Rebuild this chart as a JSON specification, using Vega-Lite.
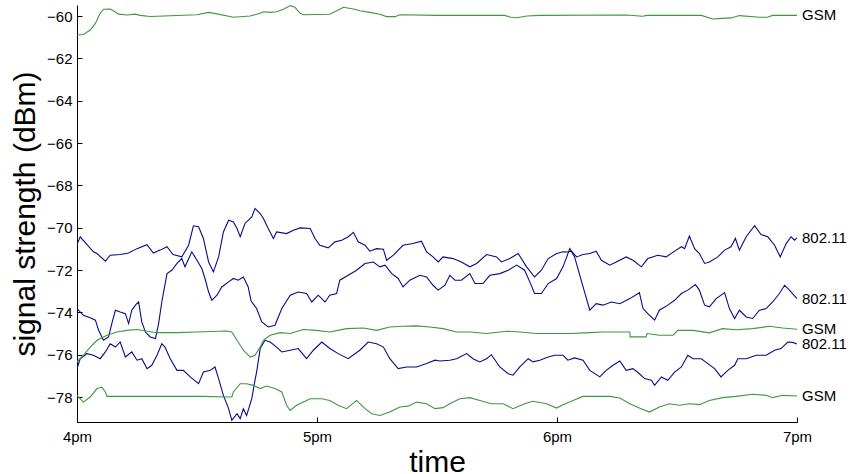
{
  "$schema": "https://vega.github.io/schema/vega-lite/v6.json",
  "autosize": "none",
  "width": 720,
  "height": 417,
  "padding": {"left": 77, "top": 5, "right": 58, "bottom": 52},
  "background": "white",
  "config": {
    "view": {"stroke": null},
    "font": "Liberation Sans",
    "axis": {"grid": false, "domainColor": "black", "tickColor": "black", "labelColor": "black", "titleColor": "black", "labelFont": "Liberation Sans", "titleFont": "Liberation Sans", "labelFontSize": 15, "titleFontSize": 30, "titleFontWeight": "normal", "tickSize": -5, "domainWidth": 1, "tickWidth": 1}
  },
  "datasets": {
    "signal": [
      {"series":"G1","type":"GSM","t":0,"v":-60.9},{"series":"G1","type":"GSM","t":1.6,"v":-60.87},{"series":"G1","type":"GSM","t":3.3,"v":-60.66},{"series":"G1","type":"GSM","t":4.6,"v":-60.35},{"series":"G1","type":"GSM","t":5.8,"v":-59.87},{"series":"G1","type":"GSM","t":6.6,"v":-59.68},{"series":"G1","type":"GSM","t":8.3,"v":-59.67},{"series":"G1","type":"GSM","t":9.1,"v":-59.75},{"series":"G1","type":"GSM","t":10.4,"v":-59.91},{"series":"G1","type":"GSM","t":12.5,"v":-59.95},{"series":"G1","type":"GSM","t":14.6,"v":-59.91},{"series":"G1","type":"GSM","t":15.8,"v":-59.97},{"series":"G1","type":"GSM","t":18.3,"v":-60.02},{"series":"G1","type":"GSM","t":30.0,"v":-59.94},{"series":"G1","type":"GSM","t":32.9,"v":-59.83},{"series":"G1","type":"GSM","t":35.0,"v":-59.9},{"series":"G1","type":"GSM","t":39.1,"v":-60.06},{"series":"G1","type":"GSM","t":43.3,"v":-60.0},{"series":"G1","type":"GSM","t":45.8,"v":-59.87},{"series":"G1","type":"GSM","t":46.6,"v":-59.8},{"series":"G1","type":"GSM","t":48.3,"v":-59.83},{"series":"G1","type":"GSM","t":49.9,"v":-59.8},{"series":"G1","type":"GSM","t":51.6,"v":-59.68},{"series":"G1","type":"GSM","t":53.3,"v":-59.51},{"series":"G1","type":"GSM","t":54.5,"v":-59.59},{"series":"G1","type":"GSM","t":55.8,"v":-59.87},{"series":"G1","type":"GSM","t":56.6,"v":-59.94},{"series":"G1","type":"GSM","t":63.2,"v":-59.92},{"series":"G1","type":"GSM","t":65.7,"v":-59.68},{"series":"G1","type":"GSM","t":66.6,"v":-59.59},{"series":"G1","type":"GSM","t":69.1,"v":-59.67},{"series":"G1","type":"GSM","t":70.7,"v":-59.75},{"series":"G1","type":"GSM","t":73.2,"v":-59.83},{"series":"G1","type":"GSM","t":75.7,"v":-59.92},{"series":"G1","type":"GSM","t":77.4,"v":-60.03},{"series":"G1","type":"GSM","t":79.5,"v":-60.03},{"series":"G1","type":"GSM","t":80.7,"v":-59.94},{"series":"G1","type":"GSM","t":90.0,"v":-59.97},{"series":"G1","type":"GSM","t":106.9,"v":-59.97},{"series":"G1","type":"GSM","t":108.5,"v":-60.06},{"series":"G1","type":"GSM","t":109.9,"v":-60.08},{"series":"G1","type":"GSM","t":112.5,"v":-60.0},{"series":"G1","type":"GSM","t":115.7,"v":-59.97},{"series":"G1","type":"GSM","t":137.4,"v":-59.95},{"series":"G1","type":"GSM","t":141.4,"v":-60.01},{"series":"G1","type":"GSM","t":142.5,"v":-59.97},{"series":"G1","type":"GSM","t":156.1,"v":-59.97},{"series":"G1","type":"GSM","t":158.9,"v":-60.14},{"series":"G1","type":"GSM","t":161.4,"v":-60.11},{"series":"G1","type":"GSM","t":163.5,"v":-60.09},{"series":"G1","type":"GSM","t":165.6,"v":-59.98},{"series":"G1","type":"GSM","t":170.6,"v":-60.06},{"series":"G1","type":"GSM","t":172.6,"v":-60.06},{"series":"G1","type":"GSM","t":173.9,"v":-59.97},{"series":"G1","type":"GSM","t":180,"v":-59.97},

      {"series":"B1","type":"802.11","t":0,"v":-70.8},{"series":"B1","type":"802.11","t":0.8,"v":-70.43},{"series":"B1","type":"802.11","t":4.1,"v":-71.14},{"series":"B1","type":"802.11","t":5.0,"v":-71.22},{"series":"B1","type":"802.11","t":7.1,"v":-71.58},{"series":"B1","type":"802.11","t":8.3,"v":-71.3},{"series":"B1","type":"802.11","t":10.8,"v":-71.27},{"series":"B1","type":"802.11","t":12.9,"v":-71.2},{"series":"B1","type":"802.11","t":15.0,"v":-70.99},{"series":"B1","type":"802.11","t":17.5,"v":-70.8},{"series":"B1","type":"802.11","t":19.1,"v":-71.2},{"series":"B1","type":"802.11","t":20.8,"v":-71.06},{"series":"B1","type":"802.11","t":22.5,"v":-70.9},{"series":"B1","type":"802.11","t":24.0,"v":-71.27},{"series":"B1","type":"802.11","t":26.2,"v":-71.38},{"series":"B1","type":"802.11","t":27.9,"v":-70.83},{"series":"B1","type":"802.11","t":29.1,"v":-69.91},{"series":"B1","type":"802.11","t":30.4,"v":-69.96},{"series":"B1","type":"802.11","t":31.6,"v":-70.51},{"series":"B1","type":"802.11","t":32.9,"v":-71.62},{"series":"B1","type":"802.11","t":34.1,"v":-72.09},{"series":"B1","type":"802.11","t":35.4,"v":-71.38},{"series":"B1","type":"802.11","t":36.6,"v":-70.2},{"series":"B1","type":"802.11","t":37.9,"v":-69.65},{"series":"B1","type":"802.11","t":39.1,"v":-69.73},{"series":"B1","type":"802.11","t":40.0,"v":-70.04},{"series":"B1","type":"802.11","t":40.8,"v":-70.43},{"series":"B1","type":"802.11","t":42.0,"v":-69.8},{"series":"B1","type":"802.11","t":43.7,"v":-69.49},{"series":"B1","type":"802.11","t":44.5,"v":-69.09},{"series":"B1","type":"802.11","t":45.8,"v":-69.33},{"series":"B1","type":"802.11","t":46.6,"v":-69.57},{"series":"B1","type":"802.11","t":47.8,"v":-70.04},{"series":"B1","type":"802.11","t":49.1,"v":-70.51},{"series":"B1","type":"802.11","t":49.9,"v":-70.2},{"series":"B1","type":"802.11","t":52.4,"v":-70.28},{"series":"B1","type":"802.11","t":54.1,"v":-70.12},{"series":"B1","type":"802.11","t":55.8,"v":-70.01},{"series":"B1","type":"802.11","t":58.3,"v":-70.04},{"series":"B1","type":"802.11","t":59.5,"v":-70.51},{"series":"B1","type":"802.11","t":60.7,"v":-70.83},{"series":"B1","type":"802.11","t":62.8,"v":-70.95},{"series":"B1","type":"802.11","t":64.5,"v":-70.67},{"series":"B1","type":"802.11","t":66.2,"v":-70.59},{"series":"B1","type":"802.11","t":67.8,"v":-70.43},{"series":"B1","type":"802.11","t":69.1,"v":-70.22},{"series":"B1","type":"802.11","t":70.3,"v":-70.67},{"series":"B1","type":"802.11","t":72.0,"v":-70.83},{"series":"B1","type":"802.11","t":73.2,"v":-71.11},{"series":"B1","type":"802.11","t":74.9,"v":-70.99},{"series":"B1","type":"802.11","t":76.6,"v":-71.02},{"series":"B1","type":"802.11","t":77.4,"v":-71.54},{"series":"B1","type":"802.11","t":79.1,"v":-71.3},{"series":"B1","type":"802.11","t":81.5,"v":-70.83},{"series":"B1","type":"802.11","t":84.0,"v":-70.75},{"series":"B1","type":"802.11","t":86.1,"v":-70.64},{"series":"B1","type":"802.11","t":87.4,"v":-71.14},{"series":"B1","type":"802.11","t":89.0,"v":-71.38},{"series":"B1","type":"802.11","t":90.3,"v":-71.62},{"series":"B1","type":"802.11","t":91.5,"v":-71.38},{"series":"B1","type":"802.11","t":94.0,"v":-71.46},{"series":"B1","type":"802.11","t":96.1,"v":-71.62},{"series":"B1","type":"802.11","t":98.2,"v":-71.85},{"series":"B1","type":"802.11","t":99.9,"v":-71.69},{"series":"B1","type":"802.11","t":102.4,"v":-71.27},{"series":"B1","type":"802.11","t":104.9,"v":-71.38},{"series":"B1","type":"802.11","t":106.1,"v":-71.62},{"series":"B1","type":"802.11","t":108.2,"v":-71.46},{"series":"B1","type":"802.11","t":110.3,"v":-71.22},{"series":"B1","type":"802.11","t":112.4,"v":-71.85},{"series":"B1","type":"802.11","t":114.4,"v":-72.33},{"series":"B1","type":"802.11","t":116.1,"v":-72.01},{"series":"B1","type":"802.11","t":117.8,"v":-71.46},{"series":"B1","type":"802.11","t":119.9,"v":-71.22},{"series":"B1","type":"802.11","t":121.5,"v":-71.14},{"series":"B1","type":"802.11","t":122.7,"v":-71.15},{"series":"B1","type":"802.11","t":123.6,"v":-71.11},{"series":"B1","type":"802.11","t":124.9,"v":-71.38},{"series":"B1","type":"802.11","t":126.5,"v":-71.27},{"series":"B1","type":"802.11","t":128.2,"v":-71.22},{"series":"B1","type":"802.11","t":129.8,"v":-71.11},{"series":"B1","type":"802.11","t":131.1,"v":-71.54},{"series":"B1","type":"802.11","t":133.2,"v":-71.77},{"series":"B1","type":"802.11","t":134.8,"v":-71.62},{"series":"B1","type":"802.11","t":137.3,"v":-71.38},{"series":"B1","type":"802.11","t":139.0,"v":-71.54},{"series":"B1","type":"802.11","t":141.1,"v":-71.85},{"series":"B1","type":"802.11","t":142.7,"v":-71.46},{"series":"B1","type":"802.11","t":145.2,"v":-71.3},{"series":"B1","type":"802.11","t":147.3,"v":-71.38},{"series":"B1","type":"802.11","t":149.8,"v":-71.06},{"series":"B1","type":"802.11","t":151.1,"v":-70.9},{"series":"B1","type":"802.11","t":151.9,"v":-70.99},{"series":"B1","type":"802.11","t":153.1,"v":-70.39},{"series":"B1","type":"802.11","t":154.4,"v":-70.99},{"series":"B1","type":"802.11","t":155.6,"v":-71.22},{"series":"B1","type":"802.11","t":156.9,"v":-71.69},{"series":"B1","type":"802.11","t":158.1,"v":-71.62},{"series":"B1","type":"802.11","t":160.2,"v":-71.38},{"series":"B1","type":"802.11","t":161.9,"v":-71.06},{"series":"B1","type":"802.11","t":163.5,"v":-70.9},{"series":"B1","type":"802.11","t":164.6,"v":-70.51},{"series":"B1","type":"802.11","t":165.6,"v":-71.06},{"series":"B1","type":"802.11","t":167.3,"v":-70.43},{"series":"B1","type":"802.11","t":169.4,"v":-69.91},{"series":"B1","type":"802.11","t":171.0,"v":-70.32},{"series":"B1","type":"802.11","t":172.7,"v":-70.43},{"series":"B1","type":"802.11","t":174.4,"v":-70.83},{"series":"B1","type":"802.11","t":175.8,"v":-71.38},{"series":"B1","type":"802.11","t":177.3,"v":-70.75},{"series":"B1","type":"802.11","t":178.5,"v":-70.43},{"series":"B1","type":"802.11","t":179.4,"v":-70.59},{"series":"B1","type":"802.11","t":180,"v":-70.48},

      {"series":"B2","type":"802.11","t":0,"v":-73.82},{"series":"B2","type":"802.11","t":1.6,"v":-74.14},{"series":"B2","type":"802.11","t":3.3,"v":-74.26},{"series":"B2","type":"802.11","t":4.6,"v":-74.37},{"series":"B2","type":"802.11","t":5.4,"v":-74.85},{"series":"B2","type":"802.11","t":6.6,"v":-75.32},{"series":"B2","type":"802.11","t":7.9,"v":-75.16},{"series":"B2","type":"802.11","t":8.7,"v":-74.53},{"series":"B2","type":"802.11","t":9.6,"v":-73.9},{"series":"B2","type":"802.11","t":10.8,"v":-73.98},{"series":"B2","type":"802.11","t":12.1,"v":-74.06},{"series":"B2","type":"802.11","t":12.9,"v":-74.53},{"series":"B2","type":"802.11","t":13.7,"v":-73.9},{"series":"B2","type":"802.11","t":14.6,"v":-73.66},{"series":"B2","type":"802.11","t":15.4,"v":-73.51},{"series":"B2","type":"802.11","t":16.2,"v":-74.45},{"series":"B2","type":"802.11","t":17.1,"v":-74.93},{"series":"B2","type":"802.11","t":18.3,"v":-75.16},{"series":"B2","type":"802.11","t":19.6,"v":-75.24},{"series":"B2","type":"802.11","t":20.4,"v":-74.53},{"series":"B2","type":"802.11","t":21.2,"v":-73.51},{"series":"B2","type":"802.11","t":22.5,"v":-72.17},{"series":"B2","type":"802.11","t":23.7,"v":-72.01},{"series":"B2","type":"802.11","t":25.0,"v":-71.69},{"series":"B2","type":"802.11","t":26.2,"v":-71.46},{"series":"B2","type":"802.11","t":27.0,"v":-71.85},{"series":"B2","type":"802.11","t":28.7,"v":-71.14},{"series":"B2","type":"802.11","t":30.0,"v":-71.54},{"series":"B2","type":"802.11","t":31.2,"v":-71.93},{"series":"B2","type":"802.11","t":32.0,"v":-72.4},{"series":"B2","type":"802.11","t":32.9,"v":-73.04},{"series":"B2","type":"802.11","t":33.7,"v":-73.43},{"series":"B2","type":"802.11","t":35.0,"v":-73.19},{"series":"B2","type":"802.11","t":36.2,"v":-72.8},{"series":"B2","type":"802.11","t":37.9,"v":-72.56},{"series":"B2","type":"802.11","t":39.1,"v":-72.4},{"series":"B2","type":"802.11","t":40.3,"v":-72.48},{"series":"B2","type":"802.11","t":41.6,"v":-72.33},{"series":"B2","type":"802.11","t":42.8,"v":-72.8},{"series":"B2","type":"802.11","t":43.5,"v":-73.45},{"series":"B2","type":"802.11","t":44.9,"v":-73.82},{"series":"B2","type":"802.11","t":46.2,"v":-74.45},{"series":"B2","type":"802.11","t":47.8,"v":-74.69},{"series":"B2","type":"802.11","t":49.5,"v":-74.61},{"series":"B2","type":"802.11","t":51.2,"v":-73.82},{"series":"B2","type":"802.11","t":53.3,"v":-73.19},{"series":"B2","type":"802.11","t":55.3,"v":-73.04},{"series":"B2","type":"802.11","t":57.4,"v":-73.11},{"series":"B2","type":"802.11","t":58.7,"v":-73.51},{"series":"B2","type":"802.11","t":60.3,"v":-73.19},{"series":"B2","type":"802.11","t":62.0,"v":-73.51},{"series":"B2","type":"802.11","t":63.2,"v":-73.19},{"series":"B2","type":"802.11","t":64.9,"v":-73.11},{"series":"B2","type":"802.11","t":65.7,"v":-72.48},{"series":"B2","type":"802.11","t":67.8,"v":-72.25},{"series":"B2","type":"802.11","t":69.9,"v":-72.01},{"series":"B2","type":"802.11","t":72.0,"v":-71.69},{"series":"B2","type":"802.11","t":74.1,"v":-71.62},{"series":"B2","type":"802.11","t":75.7,"v":-71.85},{"series":"B2","type":"802.11","t":77.0,"v":-71.77},{"series":"B2","type":"802.11","t":78.7,"v":-72.17},{"series":"B2","type":"802.11","t":80.3,"v":-72.4},{"series":"B2","type":"802.11","t":81.5,"v":-72.8},{"series":"B2","type":"802.11","t":83.2,"v":-72.48},{"series":"B2","type":"802.11","t":85.7,"v":-72.25},{"series":"B2","type":"802.11","t":87.4,"v":-72.33},{"series":"B2","type":"802.11","t":89.0,"v":-72.72},{"series":"B2","type":"802.11","t":90.3,"v":-72.95},{"series":"B2","type":"802.11","t":92.0,"v":-72.72},{"series":"B2","type":"802.11","t":93.2,"v":-72.25},{"series":"B2","type":"802.11","t":94.5,"v":-72.48},{"series":"B2","type":"802.11","t":96.1,"v":-72.48},{"series":"B2","type":"802.11","t":98.2,"v":-72.17},{"series":"B2","type":"802.11","t":99.5,"v":-72.64},{"series":"B2","type":"802.11","t":101.5,"v":-72.64},{"series":"B2","type":"802.11","t":103.2,"v":-72.25},{"series":"B2","type":"802.11","t":105.7,"v":-72.17},{"series":"B2","type":"802.11","t":107.8,"v":-72.01},{"series":"B2","type":"802.11","t":109.9,"v":-71.77},{"series":"B2","type":"802.11","t":111.9,"v":-72.01},{"series":"B2","type":"802.11","t":113.2,"v":-72.56},{"series":"B2","type":"802.11","t":114.4,"v":-73.11},{"series":"B2","type":"802.11","t":116.1,"v":-73.11},{"series":"B2","type":"802.11","t":117.8,"v":-72.64},{"series":"B2","type":"802.11","t":119.9,"v":-72.4},{"series":"B2","type":"802.11","t":121.5,"v":-71.85},{"series":"B2","type":"802.11","t":123.2,"v":-70.99},{"series":"B2","type":"802.11","t":124.4,"v":-71.38},{"series":"B2","type":"802.11","t":125.7,"v":-72.25},{"series":"B2","type":"802.11","t":126.9,"v":-73.04},{"series":"B2","type":"802.11","t":128.2,"v":-73.9},{"series":"B2","type":"802.11","t":129.8,"v":-73.59},{"series":"B2","type":"802.11","t":131.5,"v":-73.66},{"series":"B2","type":"802.11","t":133.6,"v":-73.51},{"series":"B2","type":"802.11","t":135.7,"v":-73.59},{"series":"B2","type":"802.11","t":138.2,"v":-73.35},{"series":"B2","type":"802.11","t":140.6,"v":-73.07},{"series":"B2","type":"802.11","t":141.5,"v":-73.82},{"series":"B2","type":"802.11","t":142.7,"v":-74.06},{"series":"B2","type":"802.11","t":144.4,"v":-74.37},{"series":"B2","type":"802.11","t":145.6,"v":-73.9},{"series":"B2","type":"802.11","t":147.7,"v":-73.66},{"series":"B2","type":"802.11","t":149.4,"v":-73.43},{"series":"B2","type":"802.11","t":151.1,"v":-73.11},{"series":"B2","type":"802.11","t":152.7,"v":-72.95},{"series":"B2","type":"802.11","t":154.6,"v":-72.69},{"series":"B2","type":"802.11","t":155.6,"v":-72.95},{"series":"B2","type":"802.11","t":156.9,"v":-73.66},{"series":"B2","type":"802.11","t":158.1,"v":-73.74},{"series":"B2","type":"802.11","t":159.8,"v":-73.35},{"series":"B2","type":"802.11","t":161.9,"v":-73.07},{"series":"B2","type":"802.11","t":163.1,"v":-73.82},{"series":"B2","type":"802.11","t":164.4,"v":-74.29},{"series":"B2","type":"802.11","t":165.6,"v":-73.9},{"series":"B2","type":"802.11","t":167.3,"v":-74.22},{"series":"B2","type":"802.11","t":168.9,"v":-74.29},{"series":"B2","type":"802.11","t":170.6,"v":-73.9},{"series":"B2","type":"802.11","t":172.3,"v":-73.82},{"series":"B2","type":"802.11","t":173.9,"v":-73.51},{"series":"B2","type":"802.11","t":175.6,"v":-73.11},{"series":"B2","type":"802.11","t":176.9,"v":-72.72},{"series":"B2","type":"802.11","t":178.1,"v":-72.95},{"series":"B2","type":"802.11","t":180,"v":-73.35},

      {"series":"B3","type":"802.11","t":0,"v":-76.66},{"series":"B3","type":"802.11","t":0.8,"v":-76.19},{"series":"B3","type":"802.11","t":2.5,"v":-75.95},{"series":"B3","type":"802.11","t":4.1,"v":-76.03},{"series":"B3","type":"802.11","t":5.8,"v":-76.19},{"series":"B3","type":"802.11","t":7.1,"v":-75.87},{"series":"B3","type":"802.11","t":8.3,"v":-75.48},{"series":"B3","type":"802.11","t":9.6,"v":-75.64},{"series":"B3","type":"802.11","t":10.8,"v":-75.4},{"series":"B3","type":"802.11","t":12.1,"v":-76.11},{"series":"B3","type":"802.11","t":13.7,"v":-75.87},{"series":"B3","type":"802.11","t":15.0,"v":-76.26},{"series":"B3","type":"802.11","t":16.2,"v":-76.19},{"series":"B3","type":"802.11","t":17.5,"v":-76.66},{"series":"B3","type":"802.11","t":18.7,"v":-76.5},{"series":"B3","type":"802.11","t":20.0,"v":-76.03},{"series":"B3","type":"802.11","t":21.2,"v":-75.48},{"series":"B3","type":"802.11","t":22.0,"v":-75.64},{"series":"B3","type":"802.11","t":23.3,"v":-76.19},{"series":"B3","type":"802.11","t":25.0,"v":-76.74},{"series":"B3","type":"802.11","t":26.6,"v":-76.74},{"series":"B3","type":"802.11","t":28.3,"v":-77.05},{"series":"B3","type":"802.11","t":30.4,"v":-77.37},{"series":"B3","type":"802.11","t":31.6,"v":-76.82},{"series":"B3","type":"802.11","t":33.3,"v":-76.74},{"series":"B3","type":"802.11","t":34.5,"v":-76.58},{"series":"B3","type":"802.11","t":35.4,"v":-77.13},{"series":"B3","type":"802.11","t":36.6,"v":-77.92},{"series":"B3","type":"802.11","t":37.9,"v":-78.55},{"series":"B3","type":"802.11","t":38.7,"v":-79.1},{"series":"B3","type":"802.11","t":40.0,"v":-78.79},{"series":"B3","type":"802.11","t":40.8,"v":-79.02},{"series":"B3","type":"802.11","t":41.6,"v":-78.55},{"series":"B3","type":"802.11","t":42.4,"v":-78.87},{"series":"B3","type":"802.11","t":43.7,"v":-78.08},{"series":"B3","type":"802.11","t":44.5,"v":-77.2},{"series":"B3","type":"802.11","t":44.9,"v":-76.82},{"series":"B3","type":"802.11","t":45.8,"v":-75.71},{"series":"B3","type":"802.11","t":47.0,"v":-75.32},{"series":"B3","type":"802.11","t":48.3,"v":-75.4},{"series":"B3","type":"802.11","t":49.9,"v":-75.64},{"series":"B3","type":"802.11","t":51.2,"v":-75.87},{"series":"B3","type":"802.11","t":53.3,"v":-75.79},{"series":"B3","type":"802.11","t":55.3,"v":-75.71},{"series":"B3","type":"802.11","t":57.4,"v":-76.19},{"series":"B3","type":"802.11","t":59.1,"v":-75.79},{"series":"B3","type":"802.11","t":61.2,"v":-75.4},{"series":"B3","type":"802.11","t":63.2,"v":-75.71},{"series":"B3","type":"802.11","t":65.3,"v":-75.95},{"series":"B3","type":"802.11","t":67.8,"v":-76.19},{"series":"B3","type":"802.11","t":70.7,"v":-75.79},{"series":"B3","type":"802.11","t":72.8,"v":-75.4},{"series":"B3","type":"802.11","t":74.9,"v":-75.48},{"series":"B3","type":"802.11","t":76.6,"v":-75.64},{"series":"B3","type":"802.11","t":78.2,"v":-76.19},{"series":"B3","type":"802.11","t":80.3,"v":-76.66},{"series":"B3","type":"802.11","t":82.4,"v":-76.58},{"series":"B3","type":"802.11","t":84.9,"v":-76.58},{"series":"B3","type":"802.11","t":87.4,"v":-76.42},{"series":"B3","type":"802.11","t":89.5,"v":-76.26},{"series":"B3","type":"802.11","t":90.7,"v":-76.3},{"series":"B3","type":"802.11","t":93.2,"v":-76.26},{"series":"B3","type":"802.11","t":94.9,"v":-76.19},{"series":"B3","type":"802.11","t":97.4,"v":-75.95},{"series":"B3","type":"802.11","t":99.0,"v":-76.19},{"series":"B3","type":"802.11","t":100.7,"v":-76.34},{"series":"B3","type":"802.11","t":102.4,"v":-76.19},{"series":"B3","type":"802.11","t":103.6,"v":-76.0},{"series":"B3","type":"802.11","t":105.7,"v":-76.58},{"series":"B3","type":"802.11","t":107.8,"v":-76.9},{"series":"B3","type":"802.11","t":109.0,"v":-76.97},{"series":"B3","type":"802.11","t":110.7,"v":-76.58},{"series":"B3","type":"802.11","t":112.8,"v":-76.19},{"series":"B3","type":"802.11","t":114.0,"v":-76.34},{"series":"B3","type":"802.11","t":115.7,"v":-76.26},{"series":"B3","type":"802.11","t":117.8,"v":-76.11},{"series":"B3","type":"802.11","t":119.4,"v":-76.03},{"series":"B3","type":"802.11","t":121.5,"v":-76.03},{"series":"B3","type":"802.11","t":122.7,"v":-76.26},{"series":"B3","type":"802.11","t":124.4,"v":-76.15},{"series":"B3","type":"802.11","t":126.5,"v":-76.26},{"series":"B3","type":"802.11","t":128.2,"v":-76.74},{"series":"B3","type":"802.11","t":130.7,"v":-77.05},{"series":"B3","type":"802.11","t":132.3,"v":-76.74},{"series":"B3","type":"802.11","t":134.0,"v":-76.5},{"series":"B3","type":"802.11","t":135.7,"v":-76.3},{"series":"B3","type":"802.11","t":137.3,"v":-76.74},{"series":"B3","type":"802.11","t":139.0,"v":-76.66},{"series":"B3","type":"802.11","t":140.6,"v":-76.9},{"series":"B3","type":"802.11","t":141.9,"v":-77.13},{"series":"B3","type":"802.11","t":143.6,"v":-77.21},{"series":"B3","type":"802.11","t":144.4,"v":-77.45},{"series":"B3","type":"802.11","t":146.1,"v":-77.05},{"series":"B3","type":"802.11","t":147.7,"v":-77.21},{"series":"B3","type":"802.11","t":149.4,"v":-76.82},{"series":"B3","type":"802.11","t":151.1,"v":-76.58},{"series":"B3","type":"802.11","t":152.7,"v":-76.03},{"series":"B3","type":"802.11","t":154.0,"v":-76.19},{"series":"B3","type":"802.11","t":156.1,"v":-76.19},{"series":"B3","type":"802.11","t":157.7,"v":-76.42},{"series":"B3","type":"802.11","t":159.4,"v":-76.66},{"series":"B3","type":"802.11","t":161.0,"v":-77.05},{"series":"B3","type":"802.11","t":162.7,"v":-76.74},{"series":"B3","type":"802.11","t":164.4,"v":-76.5},{"series":"B3","type":"802.11","t":165.2,"v":-76.19},{"series":"B3","type":"802.11","t":167.3,"v":-76.19},{"series":"B3","type":"802.11","t":169.8,"v":-76.03},{"series":"B3","type":"802.11","t":172.3,"v":-76.03},{"series":"B3","type":"802.11","t":174.4,"v":-75.79},{"series":"B3","type":"802.11","t":176.0,"v":-75.71},{"series":"B3","type":"802.11","t":177.7,"v":-75.4},{"series":"B3","type":"802.11","t":178.9,"v":-75.42},{"series":"B3","type":"802.11","t":180,"v":-75.5},

      {"series":"G2","type":"GSM","t":0,"v":-76.34},{"series":"G2","type":"GSM","t":1.6,"v":-76.03},{"series":"G2","type":"GSM","t":3.3,"v":-75.64},{"series":"G2","type":"GSM","t":5.0,"v":-75.32},{"series":"G2","type":"GSM","t":7.5,"v":-75.08},{"series":"G2","type":"GSM","t":10.0,"v":-74.93},{"series":"G2","type":"GSM","t":12.5,"v":-74.85},{"series":"G2","type":"GSM","t":15.0,"v":-74.81},{"series":"G2","type":"GSM","t":17.5,"v":-74.89},{"series":"G2","type":"GSM","t":20.0,"v":-74.96},{"series":"G2","type":"GSM","t":25.0,"v":-74.96},{"series":"G2","type":"GSM","t":30.0,"v":-74.93},{"series":"G2","type":"GSM","t":37.5,"v":-74.88},{"series":"G2","type":"GSM","t":38.7,"v":-74.93},{"series":"G2","type":"GSM","t":40.0,"v":-75.32},{"series":"G2","type":"GSM","t":41.6,"v":-75.79},{"series":"G2","type":"GSM","t":43.3,"v":-76.11},{"series":"G2","type":"GSM","t":44.5,"v":-76.03},{"series":"G2","type":"GSM","t":45.8,"v":-75.64},{"series":"G2","type":"GSM","t":46.6,"v":-75.32},{"series":"G2","type":"GSM","t":48.3,"v":-75.08},{"series":"G2","type":"GSM","t":50.8,"v":-74.96},{"series":"G2","type":"GSM","t":53.3,"v":-75.0},{"series":"G2","type":"GSM","t":56.6,"v":-74.81},{"series":"G2","type":"GSM","t":59.9,"v":-74.85},{"series":"G2","type":"GSM","t":63.2,"v":-74.93},{"series":"G2","type":"GSM","t":67.4,"v":-74.77},{"series":"G2","type":"GSM","t":71.6,"v":-74.74},{"series":"G2","type":"GSM","t":74.9,"v":-74.85},{"series":"G2","type":"GSM","t":78.2,"v":-74.69},{"series":"G2","type":"GSM","t":81.5,"v":-74.66},{"series":"G2","type":"GSM","t":84.9,"v":-74.64},{"series":"G2","type":"GSM","t":88.2,"v":-74.69},{"series":"G2","type":"GSM","t":91.5,"v":-74.77},{"series":"G2","type":"GSM","t":94.9,"v":-74.93},{"series":"G2","type":"GSM","t":98.2,"v":-74.93},{"series":"G2","type":"GSM","t":102.4,"v":-75.0},{"series":"G2","type":"GSM","t":107.4,"v":-74.89},{"series":"G2","type":"GSM","t":110.7,"v":-74.93},{"series":"G2","type":"GSM","t":114.9,"v":-75.0},{"series":"G2","type":"GSM","t":123.2,"v":-75.0},{"series":"G2","type":"GSM","t":128.2,"v":-74.96},{"series":"G2","type":"GSM","t":131.5,"v":-74.93},{"series":"G2","type":"GSM","t":138.2,"v":-74.93},{"series":"G2","type":"GSM","t":138.3,"v":-75.16},{"series":"G2","type":"GSM","t":142.3,"v":-75.16},{"series":"G2","type":"GSM","t":142.5,"v":-75.0},{"series":"G2","type":"GSM","t":145.6,"v":-75.08},{"series":"G2","type":"GSM","t":149.0,"v":-75.08},{"series":"G2","type":"GSM","t":150.2,"v":-74.85},{"series":"G2","type":"GSM","t":154.0,"v":-74.85},{"series":"G2","type":"GSM","t":158.1,"v":-74.97},{"series":"G2","type":"GSM","t":161.4,"v":-74.77},{"series":"G2","type":"GSM","t":164.8,"v":-74.82},{"series":"G2","type":"GSM","t":168.9,"v":-74.77},{"series":"G2","type":"GSM","t":173.1,"v":-74.66},{"series":"G2","type":"GSM","t":176.4,"v":-74.74},{"series":"G2","type":"GSM","t":180,"v":-74.8},

      {"series":"G3","type":"GSM","t":0,"v":-77.92},{"series":"G3","type":"GSM","t":1.6,"v":-78.24},{"series":"G3","type":"GSM","t":3.3,"v":-78.0},{"series":"G3","type":"GSM","t":5.0,"v":-77.6},{"series":"G3","type":"GSM","t":6.2,"v":-77.53},{"series":"G3","type":"GSM","t":7.1,"v":-77.76},{"series":"G3","type":"GSM","t":7.5,"v":-77.97},{"series":"G3","type":"GSM","t":31.6,"v":-77.97},{"series":"G3","type":"GSM","t":37.5,"v":-78.0},{"series":"G3","type":"GSM","t":38.7,"v":-78.0},{"series":"G3","type":"GSM","t":39.1,"v":-77.76},{"series":"G3","type":"GSM","t":40.8,"v":-77.37},{"series":"G3","type":"GSM","t":42.4,"v":-77.37},{"series":"G3","type":"GSM","t":44.1,"v":-77.45},{"series":"G3","type":"GSM","t":45.8,"v":-77.6},{"series":"G3","type":"GSM","t":47.4,"v":-77.48},{"series":"G3","type":"GSM","t":49.5,"v":-77.6},{"series":"G3","type":"GSM","t":51.2,"v":-77.76},{"series":"G3","type":"GSM","t":52.4,"v":-78.39},{"series":"G3","type":"GSM","t":53.3,"v":-78.63},{"series":"G3","type":"GSM","t":54.9,"v":-78.39},{"series":"G3","type":"GSM","t":58.3,"v":-78.08},{"series":"G3","type":"GSM","t":61.2,"v":-78.08},{"series":"G3","type":"GSM","t":63.2,"v":-78.16},{"series":"G3","type":"GSM","t":65.3,"v":-78.39},{"series":"G3","type":"GSM","t":67.4,"v":-78.55},{"series":"G3","type":"GSM","t":69.9,"v":-78.16},{"series":"G3","type":"GSM","t":72.0,"v":-78.55},{"series":"G3","type":"GSM","t":73.7,"v":-78.79},{"series":"G3","type":"GSM","t":75.7,"v":-78.87},{"series":"G3","type":"GSM","t":78.2,"v":-78.71},{"series":"G3","type":"GSM","t":80.7,"v":-78.47},{"series":"G3","type":"GSM","t":82.8,"v":-78.43},{"series":"G3","type":"GSM","t":84.9,"v":-78.24},{"series":"G3","type":"GSM","t":87.4,"v":-78.32},{"series":"G3","type":"GSM","t":89.5,"v":-78.55},{"series":"G3","type":"GSM","t":91.5,"v":-78.5},{"series":"G3","type":"GSM","t":93.2,"v":-78.32},{"series":"G3","type":"GSM","t":95.7,"v":-78.08},{"series":"G3","type":"GSM","t":98.2,"v":-78.03},{"series":"G3","type":"GSM","t":100.7,"v":-78.16},{"series":"G3","type":"GSM","t":103.6,"v":-78.32},{"series":"G3","type":"GSM","t":106.5,"v":-78.32},{"series":"G3","type":"GSM","t":109.0,"v":-78.55},{"series":"G3","type":"GSM","t":111.9,"v":-78.32},{"series":"G3","type":"GSM","t":114.0,"v":-78.2},{"series":"G3","type":"GSM","t":117.4,"v":-78.32},{"series":"G3","type":"GSM","t":119.9,"v":-78.52},{"series":"G3","type":"GSM","t":121.5,"v":-78.36},{"series":"G3","type":"GSM","t":124.0,"v":-78.16},{"series":"G3","type":"GSM","t":126.5,"v":-77.97},{"series":"G3","type":"GSM","t":133.2,"v":-77.97},{"series":"G3","type":"GSM","t":135.7,"v":-78.05},{"series":"G3","type":"GSM","t":138.2,"v":-78.32},{"series":"G3","type":"GSM","t":140.6,"v":-78.52},{"series":"G3","type":"GSM","t":143.1,"v":-78.71},{"series":"G3","type":"GSM","t":145.6,"v":-78.47},{"series":"G3","type":"GSM","t":148.1,"v":-78.32},{"series":"G3","type":"GSM","t":150.6,"v":-78.39},{"series":"G3","type":"GSM","t":153.1,"v":-78.32},{"series":"G3","type":"GSM","t":155.6,"v":-78.36},{"series":"G3","type":"GSM","t":158.1,"v":-78.16},{"series":"G3","type":"GSM","t":161.4,"v":-78.03},{"series":"G3","type":"GSM","t":164.8,"v":-77.97},{"series":"G3","type":"GSM","t":168.9,"v":-77.87},{"series":"G3","type":"GSM","t":172.3,"v":-77.92},{"series":"G3","type":"GSM","t":173.9,"v":-78.03},{"series":"G3","type":"GSM","t":176.4,"v":-77.92},{"series":"G3","type":"GSM","t":180,"v":-77.95}
    ]
  },
  "data": {"name": "signal"},
  "layer": [
    {
      "mark": {"type": "line", "strokeWidth": 1.1, "clip": true},
      "encoding": {
        "x": {"field": "t", "type": "quantitative", "scale": {"domain": [0, 180], "nice": false, "zero": false},
          "axis": {"values": [0, 60, 120, 180], "title": "time", "labelExpr": "['4pm','5pm','6pm','7pm'][datum.value / 60]", "labelPadding": 12, "titleY": 49, "titleBaseline": "alphabetic", "labelFlush": false}},
        "y": {"field": "v", "type": "quantitative", "scale": {"domain": [-79.18, -59.48], "nice": false, "zero": false},
          "axis": {"values": [-78, -76, -74, -72, -70, -68, -66, -64, -62, -60], "title": "signal strength (dBm)", "labelPadding": 10, "titlePadding": 6}},
        "color": {"field": "type", "type": "nominal", "scale": {"domain": ["GSM", "802.11"], "range": ["#3c993c", "#0a0a88"]}, "legend": null},
        "detail": {"field": "series", "type": "nominal"}
      }
    },
    {
      "transform": [{"filter": "datum.t == 180"}],
      "mark": {"type": "text", "align": "left", "baseline": "middle", "dx": 5, "fontSize": 15, "font": "Liberation Sans", "color": "black"},
      "encoding": {
        "x": {"field": "t", "type": "quantitative"},
        "y": {"field": "v", "type": "quantitative"},
        "text": {"field": "type", "type": "nominal"}
      }
    }
  ]
}
